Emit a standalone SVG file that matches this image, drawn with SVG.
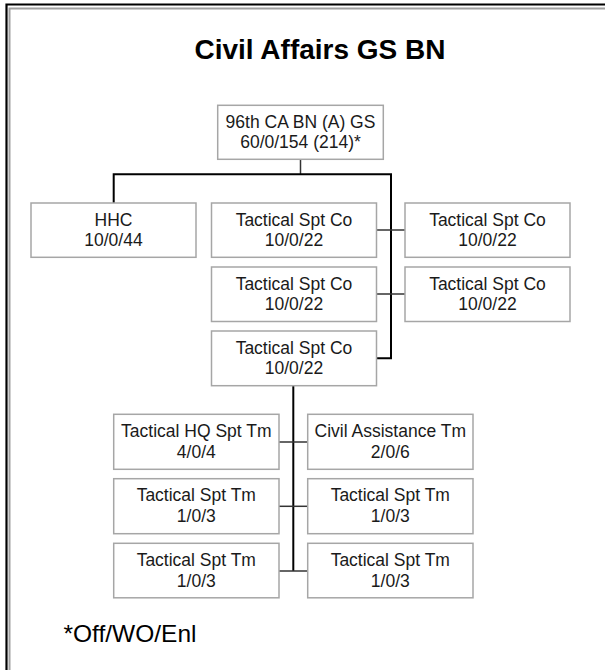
<svg xmlns="http://www.w3.org/2000/svg" width="605" height="670" viewBox="0 0 605 670">
<style>
.box{fill:#ffffff;stroke:#a6a6a6;stroke-width:1.5}
.t{font-family:"Liberation Sans",Arial,sans-serif;font-size:17.5px;fill:#1a1a1a;text-anchor:middle}
.main{stroke:#000000;stroke-width:2;fill:none}
.thin{stroke:#333333;stroke-width:1.5;fill:none}
</style>
<rect x="0" y="0" width="605" height="670" fill="#ffffff"/>
<g id="frame">
<path d="M6.5 680 V4.5 H620" fill="none" stroke="#000000" stroke-width="2.2"/>
<path d="M9.5 680 V8.5 H620" fill="none" stroke="#a0a0a0" stroke-width="2"/>
</g>
<text id="title" x="320" y="59" font-family="'Liberation Sans',Arial,sans-serif" font-size="28" font-weight="bold" text-anchor="middle" fill="#000000">Civil Affairs GS BN</text>
<g id="connectors">
<path class="thin" d="M300.5 159.5 V174.3"/>
<path class="main" d="M113.7 203 V174.3 H391 V358.3 H376.5"/>
<path class="thin" d="M376.5 230 H405"/>
<path class="thin" d="M376.5 294 H405"/>
<path class="main" d="M293.3 386 V571"/>
<path class="thin" d="M279 442 H307.7"/>
<path class="thin" d="M279 506.3 H307.7"/>
<path class="thin" d="M279 571 H307.7"/>
</g>
<g id="root"><rect class="box" x="217.7" y="105.3" width="165.6" height="54"/><text class="t" x="300.5" y="128.3">96th CA BN (A) GS</text><text class="t" x="300.5" y="148.3">60/0/154 (214)*</text></g>
<g id="hhc"><rect class="box" x="31" y="203" width="165" height="54.3"/><text class="t" x="113.5" y="225.5">HHC</text><text class="t" x="113.5" y="246">10/0/44</text></g>
<g id="tsc1"><rect class="box" x="211.5" y="203" width="165" height="54.3"/><text class="t" x="294" y="225.5">Tactical Spt Co</text><text class="t" x="294" y="246">10/0/22</text></g>
<g id="tsc2"><rect class="box" x="405" y="203" width="165" height="54.3"/><text class="t" x="487.5" y="225.5">Tactical Spt Co</text><text class="t" x="487.5" y="246">10/0/22</text></g>
<g id="tsc3"><rect class="box" x="211.5" y="267" width="165" height="54.5"/><text class="t" x="294" y="289.5">Tactical Spt Co</text><text class="t" x="294" y="310">10/0/22</text></g>
<g id="tsc4"><rect class="box" x="405" y="267" width="165" height="54.5"/><text class="t" x="487.5" y="289.5">Tactical Spt Co</text><text class="t" x="487.5" y="310">10/0/22</text></g>
<g id="tsc5"><rect class="box" x="211.5" y="331" width="165" height="54.7"/><text class="t" x="294" y="353.5">Tactical Spt Co</text><text class="t" x="294" y="374">10/0/22</text></g>
<g id="hqtm"><rect class="box" x="113.7" y="414.3" width="165.3" height="55"/><text class="t" x="196.3" y="437">Tactical HQ Spt Tm</text><text class="t" x="196.3" y="457.5">4/0/4</text></g>
<g id="catm"><rect class="box" x="307.7" y="414.3" width="165.3" height="55"/><text class="t" x="390.3" y="437">Civil Assistance Tm</text><text class="t" x="390.3" y="457.5">2/0/6</text></g>
<g id="tst1"><rect class="box" x="113.7" y="478.7" width="165.3" height="55"/><text class="t" x="196.3" y="501.4">Tactical Spt Tm</text><text class="t" x="196.3" y="521.9">1/0/3</text></g>
<g id="tst2"><rect class="box" x="307.7" y="478.7" width="165.3" height="55"/><text class="t" x="390.3" y="501.4">Tactical Spt Tm</text><text class="t" x="390.3" y="521.9">1/0/3</text></g>
<g id="tst3"><rect class="box" x="113.7" y="543.3" width="165.3" height="54.5"/><text class="t" x="196.3" y="566">Tactical Spt Tm</text><text class="t" x="196.3" y="586.5">1/0/3</text></g>
<g id="tst4"><rect class="box" x="307.7" y="543.3" width="165.3" height="54.5"/><text class="t" x="390.3" y="566">Tactical Spt Tm</text><text class="t" x="390.3" y="586.5">1/0/3</text></g>
<text id="footnote" x="63.5" y="642" font-family="'Liberation Sans',Arial,sans-serif" font-size="24.5" fill="#000000">*Off/WO/Enl</text>
</svg>
